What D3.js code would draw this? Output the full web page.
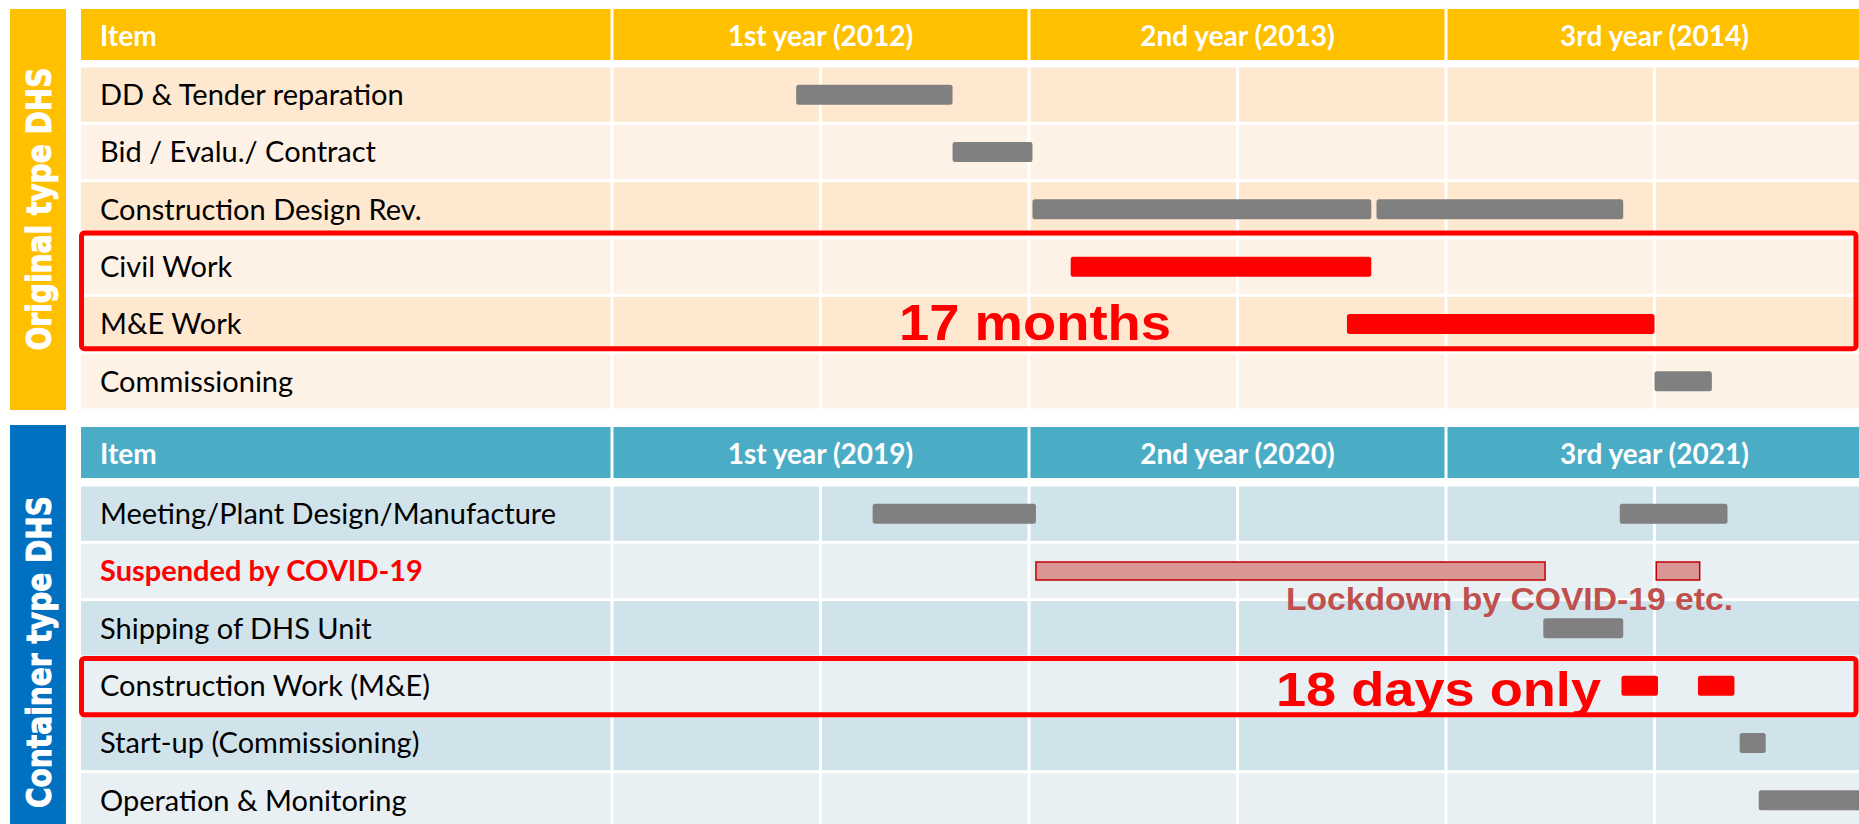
<!DOCTYPE html>
<html>
<head>
<meta charset="utf-8">
<script src="https://cdn.jsdelivr.net/npm/d3@7"></script>
<style>
html, body { margin: 0; padding: 0; background: #fff; overflow: hidden; }
svg { display: block; }
</style>
</head>
<body>
<svg id="chart" width="1859" height="824"></svg>
<script>
// table rows and year headers
const topItems = ["DD & Tender reparation", "Bid / Evalu./ Contract", "Construction Design Rev.", "Civil Work", "M&E Work", "Commissioning"];
const topYears = ["1st year (2012)", "2nd year (2013)", "3rd year (2014)"];
const bottomItems = ["Meeting/Plant Design/Manufacture", "Suspended by COVID-19", "Shipping of DHS Unit", "Construction Work (M&E)", "Start-up (Commissioning)", "Operation & Monitoring"];
const bottomYears = ["1st year (2019)", "2nd year (2020)", "3rd year (2021)"];

// bars: [row, start month, end month, kind]  (month 0 = start of 1st year)
const topBars = [
    [0, 5.3, 9.8, "task"],
    [1, 9.8, 12.1, "task"],
    [2, 12.1, 21.85, "task"],
    [2, 22.0, 29.1, "task"],
    [3, 13.2, 21.85, "key"],
    [4, 21.15, 30.0, "key"],
    [5, 30.0, 31.65, "task"]
];
const bottomBars = [
    [0, 7.5, 12.2, "task"],
    [0, 29.0, 32.1, "task"],
    [1, 12.2, 26.85, "stop"],
    [1, 30.05, 31.3, "stop"],
    [2, 26.8, 29.1, "task"],
    [3, 29.05, 30.1, "key"],
    [3, 31.25, 32.3, "key"],
    [4, 32.45, 33.2, "task"],
    [5, 33.0, 36.0, "task"]
];
const halfYearMonths = [0, 6, 12, 18, 24, 30];
const yearMonths = [0, 12, 24];

const svg = d3.select("#chart");

// one month scale shared by both tables
let x = d3.scaleLinear()
    .domain([0, 36])
    .range([612, 1863]);

const labelFont = "Lato, 'Open Sans', sans-serif";
const boldFont = "'Liberation Sans', Arial, sans-serif";

function drawPanel(p)
{
    let g = svg.append("g");

    // coloured band on the left with vertical title
    g.append("rect")
        .attr("x", 10).attr("y", p.bandTop)
        .attr("width", 56).attr("height", p.bandHeight)
        .attr("fill", p.bandColor);
    g.append("text")
        .attr("transform", "translate(51," + p.bandTextY + ") rotate(-90)")
        .attr("text-anchor", "middle")
        .attr("font-family", "'DejaVu Sans', sans-serif")
        .attr("font-weight", "bold")
        .attr("font-size", 33)
        .attr("textLength", p.bandTextLen)
        .attr("lengthAdjust", "spacingAndGlyphs")
        .attr("fill", "#fff")
        .attr("stroke", "#fff")
        .attr("stroke-width", 1)
        .text(p.bandText);

    // header row
    g.append("rect")
        .attr("x", 81).attr("y", p.headTop)
        .attr("width", 1863 - 81).attr("height", 51)
        .attr("fill", p.headColor);
    g.append("text")
        .attr("x", 100).attr("y", p.headTop + 37)
        .attr("font-family", labelFont)
        .attr("font-weight", "bold")
        .attr("font-size", 28)
        .attr("fill", "#fff")
        .text("Item");
    g.selectAll(".yr")
        .data(p.years)
        .enter()
        .append("text")
        .attr("x", (d, i) => x(yearMonths[i] + 6))
        .attr("y", p.headTop + 37)
        .attr("text-anchor", "middle")
        .attr("font-family", labelFont)
        .attr("font-weight", "bold")
        .attr("font-size", 28)
        .attr("fill", "#fff")
        .text(d => d);
    g.selectAll(".hdiv")
        .data(yearMonths)
        .enter()
        .append("rect")
        .attr("x", d => x(d) - 1.5)
        .attr("y", p.headTop)
        .attr("width", 3).attr("height", 51)
        .attr("fill", "#fff");

    // body rows
    let y = d3.scaleBand()
        .domain(d3.range(p.items.length))
        .range([p.rowTop, p.rowTop + 57.33 * p.items.length]);

    g.selectAll(".row")
        .data(p.items)
        .enter()
        .append("rect")
        .attr("x", 81)
        .attr("y", (d, i) => y(i) + 1.5)
        .attr("width", 1863 - 81)
        .attr("height", y.bandwidth() - 3)
        .attr("fill", (d, i) => i % 2 == 0 ? p.rowDark : p.rowLight);

    g.selectAll(".vline")
        .data(halfYearMonths)
        .enter()
        .append("rect")
        .attr("x", d => x(d) - 1.5)
        .attr("y", p.rowTop)
        .attr("width", 3)
        .attr("height", 57.33 * p.items.length)
        .attr("fill", "#fff");

    g.selectAll(".lbl")
        .data(p.items)
        .enter()
        .append("text")
        .attr("x", 100)
        .attr("y", (d, i) => y(i) + y.bandwidth() / 2 + 10.5)
        .attr("font-family", labelFont)
        .attr("font-size", 29)
        .attr("font-weight", (d, i) => i == p.alertRow ? "bold" : "normal")
        .attr("fill", (d, i) => i == p.alertRow ? "#ff0000" : "#000")
        .text(d => d);

    // bars
    let fills = { task: "#808080", key: "#ff0000", stop: "#da9694" };
    g.selectAll(".bar")
        .data(p.bars)
        .enter()
        .append("rect")
        .attr("x", d => x(d[1]))
        .attr("width", d => x(d[2]) - x(d[1]))
        .attr("y", d => y(d[0]) + y.bandwidth() / 2 - (d[3] == "stop" ? 9 : 10))
        .attr("height", d => d[3] == "stop" ? 18 : 20)
        .attr("rx", d => d[3] == "stop" ? 0 : 2.5)
        .attr("fill", d => fills[d[3]])
        .attr("stroke", d => d[3] == "stop" ? "#c00000" : "none")
        .attr("stroke-width", 1.5);

    // red highlight box
    g.append("rect")
        .attr("x", 81.5)
        .attr("y", y(p.boxRows[0]) + p.boxDy)
        .attr("width", 1856 - 81.5)
        .attr("height", 57.33 * p.boxRows.length + p.boxDh)
        .attr("rx", 3)
        .attr("fill", "none")
        .attr("stroke", "#ff0000")
        .attr("stroke-width", 5);

    // annotations
    p.notes.forEach(n => {
        g.append("text")
            .attr("x", n.x).attr("y", n.y)
            .attr("font-family", boldFont)
            .attr("font-weight", "bold")
            .attr("font-size", n.size)
            .attr("textLength", n.len)
            .attr("lengthAdjust", "spacingAndGlyphs")
            .attr("fill", n.color)
            .text(n.text);
    });
}

drawPanel({
    bandTop: 9, bandHeight: 401, bandColor: "#ffc000",
    bandText: "Original type DHS", bandTextY: 209, bandTextLen: 283,
    headTop: 9, headColor: "#ffc000",
    rowTop: 66, rowDark: "#fee8cf", rowLight: "#fef2e7",
    items: topItems, years: topYears, bars: topBars, alertRow: -1,
    boxRows: [3, 4], boxDy: -5, boxDh: 1,
    notes: [{ text: "17 months", x: 899, y: 340, size: 50, len: 272, color: "#ff0000" }]
});

drawPanel({
    bandTop: 425, bandHeight: 420, bandColor: "#0070c0",
    bandText: "Container type DHS", bandTextY: 652, bandTextLen: 312,
    headTop: 427, headColor: "#4bacc6",
    rowTop: 485, rowDark: "#d0e3ea", rowLight: "#e8f0f3",
    items: bottomItems, years: bottomYears, bars: bottomBars, alertRow: 1,
    boxRows: [3], boxDy: 1.5, boxDh: -1,
    notes: [
        { text: "Lockdown by COVID-19 etc.", x: 1286, y: 610, size: 31, len: 447, color: "#c0504d" },
        { text: "18 days only", x: 1276, y: 706, size: 48, len: 325, color: "#ff0000" }
    ]
});
</script>
</body>
</html>
